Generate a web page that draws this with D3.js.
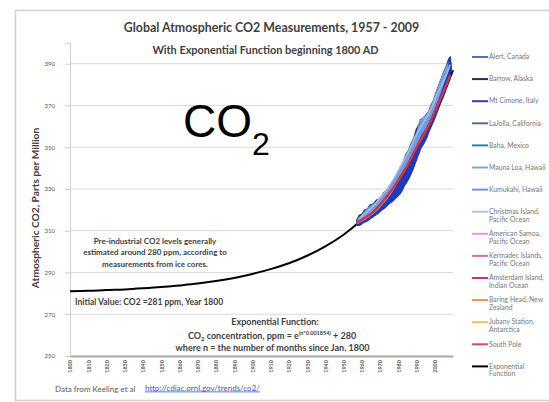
<!DOCTYPE html>
<html>
<head>
<meta charset="utf-8">
<script src="https://cdn.jsdelivr.net/npm/d3@7"></script>
<style>
  html, body { margin: 0; padding: 0; background: #fff; }
  svg { display: block; font-family: Lato, "Open Sans", sans-serif; }
</style>
</head>
<body>
<div id="chart"></div>
<script>
/**
 * Global Atmospheric CO2 Measurements, 1957 - 2009
 * Station band + exponential function, drawn with D3 into one SVG.
 */

const WIDTH = 549;
const HEIGHT = 402;
const PLOT = { left: 70, right: 453, top: 42.8, bottom: 356 };

// ─── Data ─────────────────────────────────────────────────────

const yTicks = [250, 270, 290, 310, 330, 350, 370, 390];
const xTicks = [1800, 1810, 1820, 1830, 1840, 1850, 1860, 1870, 1880, 1890, 1900,
                1910, 1920, 1930, 1940, 1950, 1960, 1970, 1980, 1990, 2000];

// Exponential function, read every decade
const expYears = [1800, 1810, 1820, 1830, 1840, 1850, 1860, 1870, 1880, 1890, 1900,
                  1910, 1920, 1930, 1940, 1950, 1960, 1970, 1980, 1990, 2000, 2010];
const expPpm = [281.0, 281.2, 281.6, 281.9, 282.4, 283.0, 283.8, 284.7, 285.9, 287.4, 289.3,
                291.6, 294.4, 298.0, 302.5, 308.1, 315.2, 323.9, 334.9, 348.5, 365.6, 386.9];

// Outer envelope of all station records (seasonal highs / lows, jagged edge)
const envHighYears = [1957.0, 1958.5, 1960.0, 1961.5, 1963.0, 1964.5, 1966.0, 1968.0, 1970.0,
                      1972.0, 1973.5, 1975.0, 1976.5, 1978.0, 1979.5, 1981.0, 1982.5, 1984.0,
                      1985.5, 1987.0, 1988.5, 1989.7, 1991.0, 1992.3, 1993.5, 1995.0, 1996.5,
                      1998.0, 1999.3, 2000.5, 2002.0, 2003.5, 2005.0, 2006.5, 2007.6, 2008.6];
const envHighPpm = [315.0, 317.5, 318.0, 320.0, 320.5, 322.5, 322.8, 324.8, 325.5,
                    328.5, 329.0, 331.5, 333.0, 335.5, 337.0, 340.5, 342.5, 346.5,
                    348.5, 352.0, 354.5, 358.5, 360.5, 363.5, 363.8, 365.5, 367.0,
                    370.5, 372.5, 376.0, 379.5, 383.0, 386.5, 389.5, 392.5, 393.5];
const envLowYears = [1957.3, 1959.0, 1961.0, 1963.0, 1965.0, 1967.0, 1969.0, 1971.0, 1973.0,
                     1975.0, 1977.0, 1979.0, 1980.5, 1982.0, 1983.5, 1985.0, 1986.5, 1988.0,
                     1989.5, 1991.0, 1992.5, 1994.0, 1995.5, 1997.0, 1998.5, 2000.0, 2001.5,
                     2003.0, 2004.5, 2006.0, 2007.5, 2008.6, 2009.2];
const envLowPpm = [312.5, 312.5, 313.8, 314.5, 315.8, 317.0, 318.2, 319.8, 321.0,
                   322.8, 324.0, 325.8, 327.0, 328.8, 331.5, 333.5, 336.0, 339.0,
                   342.5, 346.0, 349.5, 351.5, 354.0, 357.5, 360.5, 363.5, 367.0,
                   370.5, 373.5, 377.0, 380.5, 383.5, 388.0];

// Lighter inner band (Hawaii / Pacific stations)
const lightYears = [1957.2, 1960, 1964, 1968, 1972, 1976, 1980, 1984, 1988, 1990, 1992, 1996, 2000, 2004, 2007.5];
const lightHigh = [314.8, 317.8, 321.5, 324.0, 327.8, 332.0, 338.5, 345.8, 353.8, 357.5, 362.8, 366.5, 375.0, 384.5, 391.0];
const lightLow = [313.0, 314.3, 316.5, 319.2, 323.0, 327.5, 333.5, 340.0, 347.0, 350.5, 354.5, 360.5, 368.5, 377.5, 386.5];

// Annual means
const meanYears = [1958, 1962, 1966, 1970, 1974, 1978, 1982, 1986, 1990, 1994, 1998, 2002, 2006, 2008.5];
const meanPpm = [315.5, 318.5, 321.5, 325.8, 330.0, 335.5, 342.0, 348.5, 356.0, 362.0, 368.5, 376.5, 384.0, 389.5];
const southPoleYears = [1957.5, 1962, 1966, 1970, 1974, 1978, 1982, 1986, 1990, 1994, 1998, 2002, 2006, 2008.5];
const southPolePpm = [314.0, 316.3, 318.8, 322.5, 326.8, 331.5, 337.0, 343.0, 350.0, 356.0, 363.0, 371.0, 379.0, 384.5];

// Legend
const legendNames = [
  ['Alert, Canada'], ['Barrow, Alaska'], ['Mt Cimone,  Italy'], ['LaJolla, California'],
  ['Baha, Mexico'], ['Mauna Loa, Hawaii'], ['Kumukahi, Hawaii'],
  ['Christmas Island,', 'Pacific Ocean'], ['American Samoa,', 'Pacific Ocean'],
  ['Kermadec Islands,', 'Pacific Ocean'], ['Amsterdam Island,', 'Indian Ocean'],
  ['Baring Head, New', 'Zealand'], ['Jubany Station,', 'Antarctica'], ['South Pole'],
  ['Exponential', 'Function']
];
const legendColors = ['#4f72b0', '#1f2d4f', '#3a3aa8', '#5f6a9a', '#2f7ea0', '#7aa4d4', '#6f97c8',
                      '#a8c4e4', '#e39ad6', '#cf6cbd', '#c2357e', '#e8954f', '#efc15a', '#dd4b4b',
                      '#000000'];

// ─── Setup ────────────────────────────────────────────────────

const x = d3.scaleLinear().domain([1800, 2010]).range([PLOT.left, PLOT.right]);
const y = d3.scaleLinear().domain([250, 400]).range([PLOT.bottom, PLOT.top]);

const svg = d3.select('#chart').append('svg')
    .attr('width', WIDTH)
    .attr('height', HEIGHT);

// Frame
svg.append('rect')
    .attr('x', 15.5).attr('y', 10.5)
    .attr('width', 600).attr('height', 390)
    .attr('fill', 'none').attr('stroke', '#d0d0d0').attr('stroke-width', 1.5);

// Titles
svg.append('text')
    .attr('x', 271.5).attr('y', 32)
    .attr('text-anchor', 'middle')
    .attr('font-size', 12.4).attr('font-weight', 'bold').attr('fill', '#404040')
    .text('Global Atmospheric CO2 Measurements, 1957 - 2009');

svg.append('text')
    .attr('x', 265.5).attr('y', 54)
    .attr('text-anchor', 'middle')
    .attr('font-size', 10.9).attr('font-weight', 'bold').attr('fill', '#404040')
    .text('With Exponential  Function beginning 1800 AD');

svg.append('text')
    .attr('transform', 'translate(39,208) rotate(-90)')
    .attr('text-anchor', 'middle')
    .attr('font-size', 10.2).attr('font-weight', 'bold').attr('fill', '#404040')
    .text('Atmospheric CO2, Parts per Million');

// ─── Axes / grid ──────────────────────────────────────────────

svg.append('g')
    .selectAll('line')
    .data(yTicks.filter(d => d > 250))
    .join('line')
    .attr('x1', PLOT.left).attr('x2', PLOT.right)
    .attr('y1', d => y(d)).attr('y2', d => y(d))
    .attr('stroke', '#d9d9d9').attr('stroke-width', 1);

const yAxis = svg.append('g')
    .attr('transform', `translate(${PLOT.left},0)`)
    .call(d3.axisLeft(y).tickValues(yTicks).tickSize(5).tickPadding(10));
yAxis.select('.domain').attr('stroke', '#d0d0d0');
yAxis.selectAll('.tick line').attr('stroke', '#c8c8c8');
yAxis.selectAll('.tick text')
    .attr('font-family', 'Lato, sans-serif').attr('font-size', 6).attr('fill', '#595959');

const xAxis = svg.append('g')
    .attr('transform', `translate(0,${PLOT.bottom})`)
    .call(d3.axisBottom(x).tickValues(xTicks).tickSize(0).tickFormat(d3.format('d')));
xAxis.select('.domain').attr('stroke', '#a6a6a6').attr('stroke-width', 2);
xAxis.selectAll('.tick text')
    .attr('font-family', 'Lato, sans-serif').attr('font-size', 5.5).attr('font-weight', 'bold')
    .attr('fill', '#595959')
    .attr('text-anchor', 'end')
    .attr('transform', 'rotate(-90)')
    .attr('x', -4).attr('y', 0).attr('dy', '0.35em');

// ─── Series ───────────────────────────────────────────────────

const line = d3.line().x(d => x(d[0])).y(d => y(d[1])).curve(d3.curveMonotoneX);

// exponential curve sits underneath the station records
svg.append('path')
    .attr('d', line(expYears.map((yr, i) => [yr, expPpm[i]])))
    .attr('fill', 'none').attr('stroke', '#000').attr('stroke-width', 2);

const envPts = envHighYears.map((yr, i) => [yr, envHighPpm[i]])
    .concat(envLowYears.map((yr, i) => [yr, envLowPpm[i]]).reverse());
svg.append('path')
    .attr('d', d3.line().x(d => x(d[0])).y(d => y(d[1]))(envPts) + 'Z')
    .attr('fill', '#1f3bb8')
    .attr('stroke', '#15257a').attr('stroke-width', 0.8);

const lightArea = d3.area()
    .x((d, i) => x(lightYears[i]))
    .y0((d, i) => y(lightLow[i]))
    .y1((d, i) => y(lightHigh[i]))
    .curve(d3.curveMonotoneX);
svg.append('path')
    .attr('d', lightArea(lightYears))
    .attr('fill', '#6f9de0');

svg.append('path')
    .attr('d', line(meanYears.map((yr, i) => [yr, meanPpm[i]])))
    .attr('fill', 'none').attr('stroke', '#9dbce9').attr('stroke-width', 1.6);

svg.append('path')
    .attr('d', line(southPoleYears.map((yr, i) => [yr, southPolePpm[i]])))
    .attr('fill', 'none').attr('stroke', '#e0303a').attr('stroke-width', 2.4);

// ─── Annotations ──────────────────────────────────────────────

const co2 = svg.append('text')
    .attr('x', 183).attr('y', 137)
    .attr('font-family', '"Liberation Sans", Arial, sans-serif')
    .attr('font-size', 46).attr('fill', '#000');
co2.append('tspan').text('CO');
co2.append('tspan').attr('font-size', 32).attr('dy', 18).text('2');

const note = svg.append('g')
    .attr('font-size', 8).attr('font-weight', 'bold').attr('fill', '#404040');
['Pre-industrial CO2 levels generally',
 'estimated around 280  ppm, according to',
 'measurements from ice cores.'].forEach((t, i) => {
  note.append('text')
      .attr('x', 155).attr('y', 244 + i * 11.3)
      .attr('text-anchor', 'middle')
      .text(t);
});

note.append('text')
    .attr('x', 75).attr('y', 304.5)
    .attr('font-size', 8.5)
    .text('Initial Value:  CO2 =281 ppm, Year 1800');

svg.append('text')
    .attr('x', 275).attr('y', 325)
    .attr('text-anchor', 'middle')
    .attr('font-size', 9).attr('font-weight', 'bold').attr('fill', '#404040')
    .text('Exponential Function:');

const eq = svg.append('text')
    .attr('x', 272).attr('y', 338.5)
    .attr('text-anchor', 'middle')
    .attr('font-size', 9).attr('font-weight', 'bold').attr('fill', '#404040');
eq.append('tspan').text('CO');
eq.append('tspan').attr('font-size', 6).attr('dy', 2).text('2');
eq.append('tspan').attr('dy', -2).text(' concentration, ppm = e');
eq.append('tspan').attr('font-size', 5.5).attr('dy', -4).text('(n*0.001854)');
eq.append('tspan').attr('dy', 4).text(' + 280');

svg.append('text')
    .attr('x', 272.5).attr('y', 350.5)
    .attr('text-anchor', 'middle')
    .attr('font-size', 9).attr('font-weight', 'bold').attr('fill', '#404040')
    .text('where n = the number of months since Jan. 1800');

svg.append('text')
    .attr('x', 55).attr('y', 391.5)
    .attr('font-size', 8).attr('fill', '#595959')
    .text('Data from Keeling et al');

svg.append('text')
    .attr('x', 145).attr('y', 390.5)
    .attr('font-size', 8).attr('fill', '#3a55c8')
    .attr('text-decoration', 'underline')
    .text('http://cdiac.ornl.gov/trends/co2/');

// ─── Legend ───────────────────────────────────────────────────

const legend = svg.append('g');
legendNames.forEach((lines, i) => {
  const ly = 57 + i * 22.1;
  legend.append('line')
      .attr('x1', 472).attr('x2', 488)
      .attr('y1', ly).attr('y2', ly)
      .attr('stroke', legendColors[i]).attr('stroke-width', 2);
  lines.forEach((t, j) => {
    legend.append('text')
        .attr('x', 489).attr('y', ly + 2.2 + j * 7.8)
        .attr('font-size', 6.8).attr('fill', '#767676')
        .text(t);
  });
});
</script>
</body>
</html>
